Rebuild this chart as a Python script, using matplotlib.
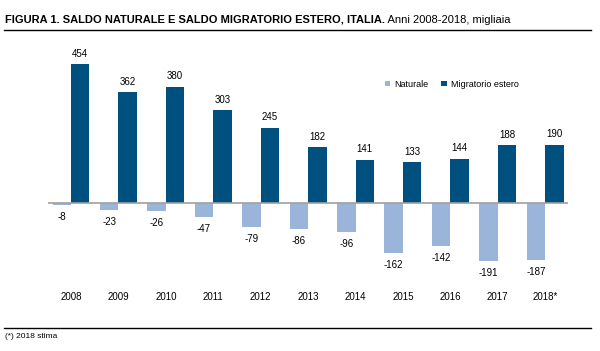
import numpy as np
import matplotlib.pyplot as plt
from matplotlib.lines import Line2D

#-----------------------------------------------------------------------------------------------------#

anni = ['2008', '2009', '2010', '2011', '2012', '2013', '2014', '2015', '2016', '2017', '2018*']
naturale = [-8, -23, -26, -47, -79, -86, -96, -162, -142, -191, -187]
migratorio = [454, 362, 380, 303, 245, 182, 141, 133, 144, 188, 190]

col_nat = '#9bb5da'
col_mig = '#00507f'

plt.rcParams['font.family'] = ['Liberation Sans Narrow', 'Liberation Sans', 'DejaVu Sans']

#-----------------------------------------------------------------------------------------------------#

fig = plt.figure(figsize=(6, 3.51), dpi=100)
ax = fig.add_axes([0.08, 0.2023, 0.867, 0.6838])

x = np.arange(len(anni))
w = 0.39
ax.bar(x - w / 2, naturale, w, color=col_nat, label='Naturale', zorder=2)
ax.bar(x + w / 2, migratorio, w, color=col_mig, label='Migratorio estero', zorder=2)
ax.axhline(0, color='#a0a0a0', lw=1.2, zorder=3)

for i in range(len(anni)):
    ax.annotate(str(migratorio[i]), (x[i] + w / 2, migratorio[i]), xytext=(0, 4),
                textcoords='offset points', ha='center', va='bottom', fontsize=7)
    ax.annotate(str(naturale[i]), (x[i] - w / 2, naturale[i]), xytext=(0, -5),
                textcoords='offset points', ha='center', va='top', fontsize=7)

ax.set_xlim(-0.485, 10.485)
ax.set_ylim(-251.6, 532.7)
ax.set_xticks(x)
ax.set_xticklabels(anni, fontsize=7)
ax.tick_params(axis='x', length=0, pad=9)
ax.set_yticks([])
for s in ax.spines.values():
    s.set_visible(False)

ax.legend(loc='upper left', bbox_to_anchor=(0.647, 0.835), ncol=2, frameon=False, fontsize=6.5,
          handlelength=0.6, handleheight=0.6, handletextpad=0.5, columnspacing=1.4,
          borderaxespad=0, borderpad=0)

#-----------------------------------------------------------------------------------------------------#

t = fig.text(0.008, 1 - 20 / 351, 'FIGURA 1. SALDO NATURALE E SALDO MIGRATORIO ESTERO, ITALIA.',
             fontsize=8, fontweight='bold', va='center')
ax.annotate(' Anni 2008-2018, migliaia', xy=(1, 0), xycoords=t, va='bottom', fontsize=8,
            annotation_clip=False)

fig.add_artist(Line2D([0.007, 0.985], [1 - 30 / 351, 1 - 30 / 351], color='black', lw=1))
fig.add_artist(Line2D([0.007, 0.985], [1 - 328 / 351, 1 - 328 / 351], color='black', lw=1))
fig.text(0.008, 1 - 337 / 351, '(*) 2018 stima', fontsize=6, va='center')

fig.savefig('out.png', dpi=100, facecolor='white')
